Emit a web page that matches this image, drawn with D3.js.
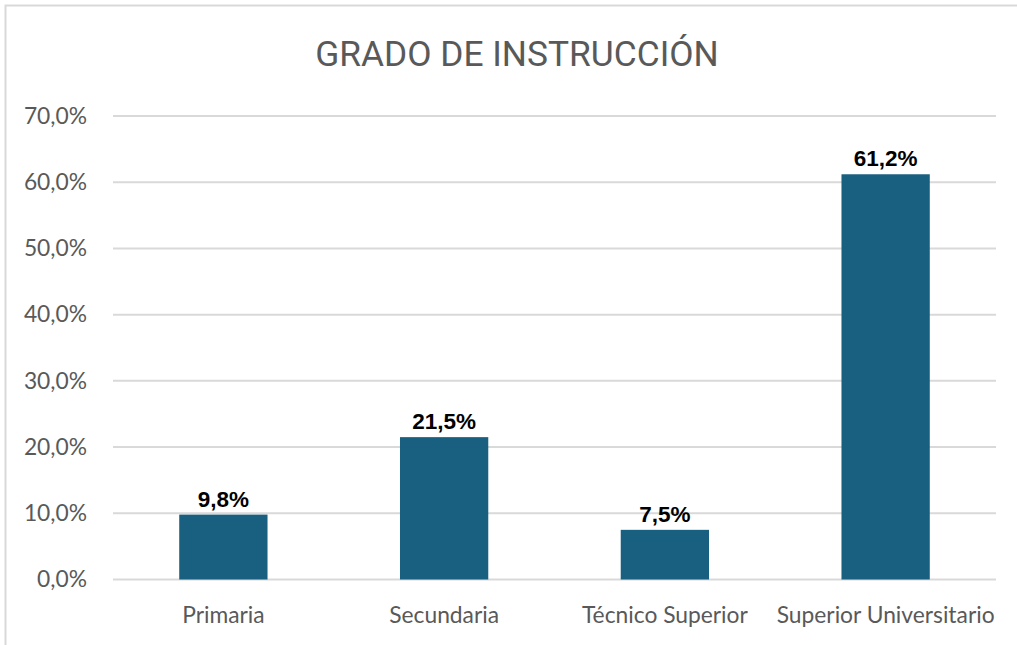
<!DOCTYPE html>
<meta charset="utf-8">
<style>
    body { margin: 0; background: #fff; }
    .title { font-family: Roboto, sans-serif; fill: #595959; }
    .tick-label { font-family: Lato, sans-serif; fill: #595959; }
    .bar-label { font-family: "Liberation Sans", Arial, sans-serif; font-weight: bold; fill: #000; }
</style>
<body>
<script src="https://d3js.org/d3.v7.min.js"></script>
<script>

    // chart data
    var categories = ["Primaria", "Secundaria", "Técnico Superior", "Superior Universitario"];
    var values = [9.8, 21.5, 7.5, 61.2];
    var yTicks = [0, 10, 20, 30, 40, 50, 60, 70];

    var W = 1017, H = 645;
    var margin = { top: 116, right: 21, bottom: 65.5, left: 113 },
        width = W - margin.left - margin.right,
        height = H - margin.top - margin.bottom;

    var fmt = function (v) { return v.toFixed(1).replace(".", ",") + "%"; };

    var svg = d3.select("body").append("svg")
        .attr("width", W)
        .attr("height", H);

    // outer border of the chart area
    svg.append("rect")
        .attr("x", 5.5).attr("y", 5.5)
        .attr("width", W + 10).attr("height", H + 10)
        .attr("fill", "none")
        .attr("stroke", "#d9d9d9")
        .attr("stroke-width", 2);

    svg.append("text")
        .attr("class", "title")
        .attr("x", 517)
        .attr("y", 66)
        .attr("text-anchor", "middle")
        .style("font-size", "35.3px")
        .text("GRADO DE INSTRUCCIÓN");

    var g = svg.append("g")
        .attr("transform", "translate(" + margin.left + "," + margin.top + ")");

    var x = d3.scaleBand()
        .domain(categories)
        .range([0, width])
        .paddingInner(0.6)
        .paddingOuter(0.3);

    var y = d3.scaleLinear()
        .domain([0, 70])
        .range([height, 0]);

    // gridlines
    g.selectAll(".grid")
        .data(yTicks)
        .enter().append("line")
        .attr("x1", 0).attr("x2", width)
        .attr("y1", function (d) { return y(d); })
        .attr("y2", function (d) { return y(d); })
        .attr("stroke", "#d9d9d9")
        .attr("stroke-width", 2);

    // y axis labels
    var yAxis = g.append("g")
        .call(d3.axisLeft(y).tickValues(yTicks).tickFormat(fmt).tickSize(0).tickPadding(26));
    yAxis.select(".domain").remove();
    yAxis.selectAll("text")
        .attr("class", "tick-label")
        .attr("fill", "#595959")
        .style("font-size", "22.8px");

    // bars
    g.selectAll(".bar")
        .data(values)
        .enter().append("rect")
        .attr("class", "bar")
        .attr("x", function (d, i) { return x(categories[i]); })
        .attr("width", x.bandwidth())
        .attr("y", function (d) { return y(d); })
        .attr("height", function (d) { return height - y(d); })
        .attr("fill", "#185f80");

    // value labels
    g.selectAll(".bar-label")
        .data(values)
        .enter().append("text")
        .attr("class", "bar-label")
        .attr("x", function (d, i) { return x(categories[i]) + x.bandwidth() / 2; })
        .attr("y", function (d) { return y(d) - 8; })
        .attr("text-anchor", "middle")
        .style("font-size", "22.5px")
        .text(fmt);

    // x axis labels
    var xAxis = g.append("g")
        .attr("transform", "translate(0," + height + ")")
        .call(d3.axisBottom(x).tickSize(0).tickPadding(27));
    xAxis.select(".domain").remove();
    xAxis.selectAll("text")
        .attr("class", "tick-label")
        .attr("fill", "#595959")
        .style("font-size", "22.8px");

</script>
</body>
